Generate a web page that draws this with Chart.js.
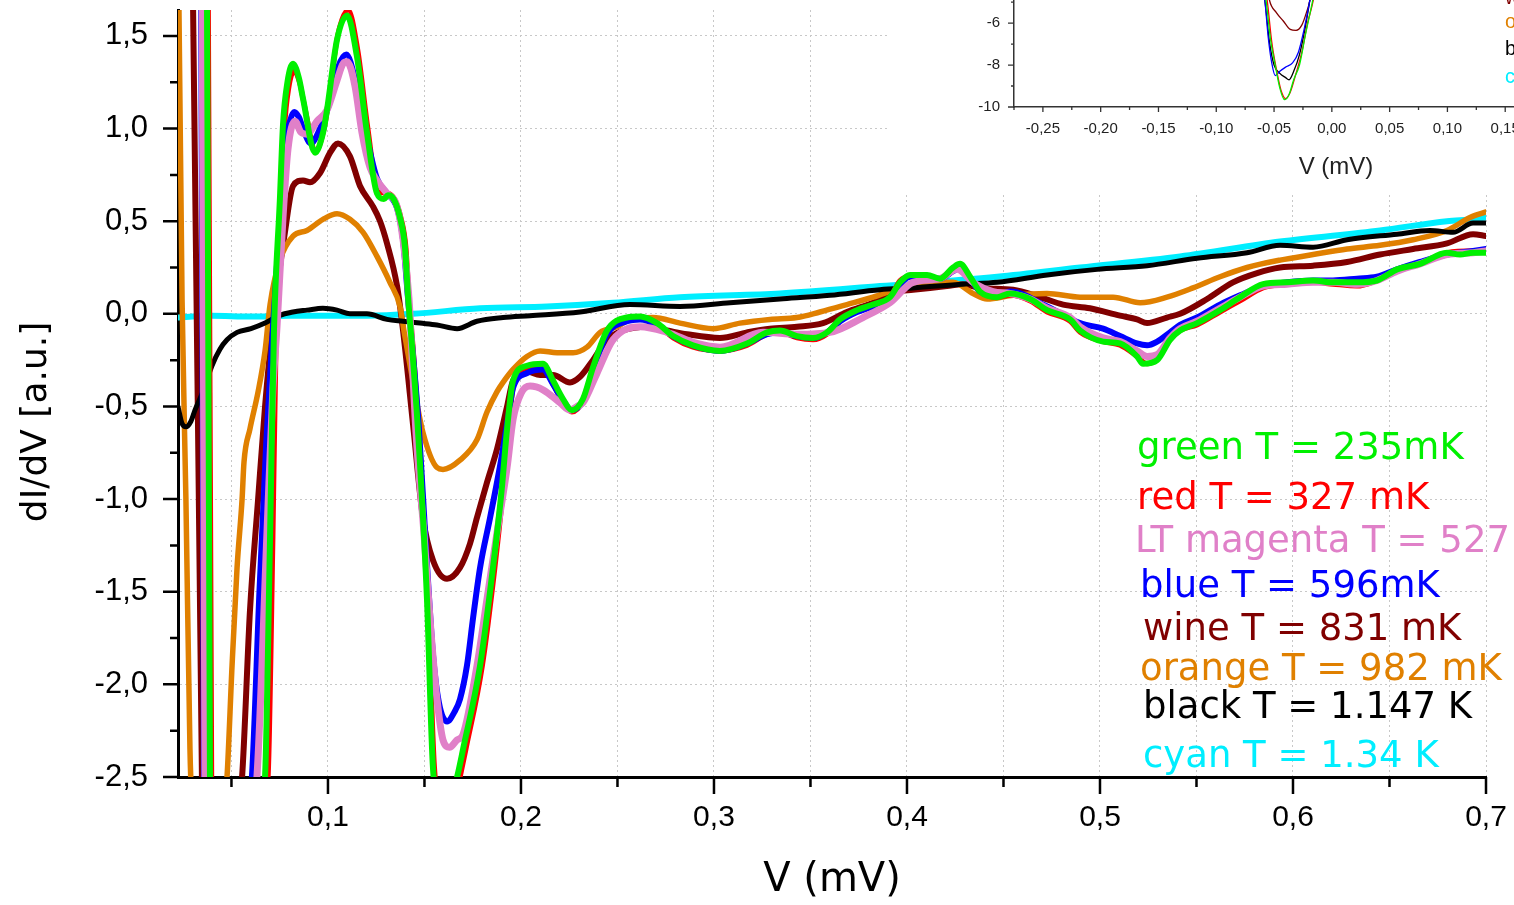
<!DOCTYPE html>
<html>
<head>
<meta charset="utf-8">
<script src="https://cdn.jsdelivr.net/npm/chart.js@4.4.1/dist/chart.umd.min.js"></script>
<style>
  html, body { margin: 0; padding: 0; background: #fff; overflow: hidden; }
  #wrap { position: relative; width: 1514px; height: 905px; overflow: hidden; }
  #main { position: absolute; left: 0; top: 0; }
  #inset { position: absolute; left: 890px; top: 0; }
</style>
</head>
<body>
<div id="wrap">
  <canvas id="main" width="1514" height="905"></canvas>
  <canvas id="inset" width="710" height="195"></canvas>
</div>
<script>
'use strict';

// main plot: [V (mV), dI/dV (a.u.)], values off the axes are clipped
const green = [[0.0225, 2.4], [0.0373, 1.75], [0.0389, -2.6], [0.052, -3.6], [0.0674, -2.5], [0.07, -1.2], [0.072, -0.1], [0.0751, 0.62], [0.0767, 1.02], [0.079, 1.25], [0.0819, 1.35], [0.085, 1.27], [0.0871, 1.16], [0.0933, 0.87], [0.0975, 0.98], [0.0995, 1.1], [0.1047, 1.48], [0.1099, 1.61], [0.115, 1.39], [0.1202, 0.98], [0.1254, 0.65], [0.129, 0.62], [0.1311, 0.64], [0.134, 0.62], [0.1373, 0.52], [0.1399, 0.36], [0.1415, 0.09], [0.1436, -0.18], [0.1467, -0.64], [0.1513, -1.54], [0.1544, -2.45], [0.16, -2.75], [0.1669, -2.5], [0.17, -2.35], [0.1788, -1.9], [0.1855, -1.37], [0.19, -0.95], [0.1928, -0.62], [0.1959, -0.36], [0.2031, -0.28], [0.2114, -0.27], [0.2166, -0.36], [0.2218, -0.46], [0.2264, -0.52], [0.2321, -0.46], [0.2373, -0.29], [0.2446, -0.09], [0.2549, -0.02], [0.2617, -0.015], [0.2705, -0.05], [0.2788, -0.12], [0.2891, -0.17], [0.3031, -0.2], [0.3171, -0.16], [0.3275, -0.1], [0.3342, -0.09], [0.343, -0.12], [0.3513, -0.13], [0.3586, -0.1], [0.3653, -0.03], [0.3741, 0.02], [0.3824, 0.05], [0.3912, 0.09], [0.3964, 0.17], [0.4016, 0.21], [0.4104, 0.21], [0.4171, 0.19], [0.4239, 0.25], [0.4275, 0.27], [0.4327, 0.2], [0.4378, 0.12], [0.4467, 0.09], [0.4534, 0.11], [0.4638, 0.08], [0.4726, 0.02], [0.4845, -0.03], [0.4897, -0.09], [0.5016, -0.15], [0.5104, -0.16], [0.5192, -0.23], [0.5223, -0.27], [0.5296, -0.25], [0.5363, -0.14], [0.5415, -0.09], [0.5503, -0.05], [0.5622, 0.02], [0.5726, 0.09], [0.5845, 0.16], [0.5969, 0.17], [0.6104, 0.18], [0.6207, 0.17], [0.6332, 0.17], [0.6435, 0.18], [0.6539, 0.24], [0.6658, 0.27], [0.6798, 0.33], [0.6865, 0.32], [0.6933, 0.33], [0.7, 0.33]];

const red = [[0.0225, 2.4], [0.038, 1.75], [0.0398, -2.6], [0.053, -3.6], [0.069, -2.5], [0.0715, -1.2], [0.0732, -0.1], [0.076, 0.62], [0.0775, 1.0], [0.0797, 1.22], [0.0825, 1.31], [0.0855, 1.24], [0.0877, 1.13], [0.0938, 0.88], [0.098, 1.0], [0.1, 1.12], [0.105, 1.5], [0.1105, 1.64], [0.1155, 1.42], [0.1207, 1.0], [0.126, 0.66], [0.1311, 0.65], [0.1345, 0.62], [0.1378, 0.52], [0.1404, 0.36], [0.142, 0.09], [0.1441, -0.18], [0.1472, -0.64], [0.1518, -1.54], [0.1552, -2.45], [0.162, -2.8], [0.1685, -2.5], [0.1715, -2.35], [0.18, -1.9], [0.1865, -1.37], [0.1908, -0.95], [0.1935, -0.62], [0.1965, -0.37], [0.2031, -0.29], [0.2114, -0.28], [0.2166, -0.38], [0.2218, -0.48], [0.2264, -0.53], [0.2321, -0.47], [0.2373, -0.3], [0.2446, -0.1], [0.2549, -0.03], [0.2617, -0.02], [0.2705, -0.06], [0.2788, -0.13], [0.2891, -0.18], [0.3031, -0.2], [0.3171, -0.17], [0.3275, -0.11], [0.3342, -0.1], [0.343, -0.13], [0.3513, -0.14], [0.3586, -0.11], [0.3653, -0.04], [0.3741, 0.01], [0.3824, 0.04], [0.3912, 0.09], [0.3964, 0.18], [0.4016, 0.2], [0.4104, 0.2], [0.4171, 0.19], [0.4239, 0.23], [0.4275, 0.25], [0.4327, 0.19], [0.4378, 0.12], [0.4467, 0.09], [0.4534, 0.1], [0.4638, 0.07], [0.4726, 0.01], [0.4845, -0.04], [0.4897, -0.1], [0.5016, -0.15], [0.5104, -0.17], [0.5192, -0.23], [0.5244, -0.27], [0.5296, -0.24], [0.5363, -0.14], [0.5415, -0.09], [0.5503, -0.06], [0.5622, 0.01], [0.5726, 0.07], [0.5845, 0.14], [0.5969, 0.16], [0.6104, 0.17], [0.6207, 0.16], [0.6332, 0.15], [0.6435, 0.18], [0.6539, 0.23], [0.6658, 0.27], [0.6798, 0.33], [0.6933, 0.34], [0.7, 0.34]];

const magenta = [[0.0225, 2.4], [0.0348, 1.75], [0.0363, -2.6], [0.048, -3.6], [0.0632, -2.5], [0.0684, -1.18], [0.0715, -0.4], [0.0736, -0.07], [0.0767, 0.52], [0.0793, 0.89], [0.0829, 1.04], [0.086, 0.98], [0.0891, 0.97], [0.0943, 1.04], [0.0995, 1.1], [0.1047, 1.26], [0.1078, 1.35], [0.1099, 1.36], [0.114, 1.23], [0.1176, 0.98], [0.1218, 0.79], [0.1254, 0.72], [0.1306, 0.65], [0.1358, 0.58], [0.1389, 0.4], [0.142, 0.08], [0.1456, -0.64], [0.1497, -1.18], [0.1534, -1.72], [0.1565, -2.08], [0.1596, -2.3], [0.163, -2.34], [0.1669, -2.3], [0.17, -2.27], [0.1772, -1.9], [0.1824, -1.54], [0.1876, -1.18], [0.1928, -0.83], [0.1959, -0.57], [0.2, -0.43], [0.2047, -0.39], [0.2114, -0.41], [0.2202, -0.48], [0.2254, -0.52], [0.229, -0.5], [0.2321, -0.48], [0.2394, -0.32], [0.2477, -0.14], [0.2617, -0.07], [0.2757, -0.1], [0.2912, -0.16], [0.3031, -0.18], [0.3254, -0.1], [0.343, -0.11], [0.3601, -0.1], [0.3772, -0.02], [0.3912, 0.06], [0.4031, 0.17], [0.4171, 0.19], [0.4259, 0.24], [0.4342, 0.17], [0.4446, 0.12], [0.4534, 0.11], [0.4638, 0.08], [0.4726, 0.03], [0.4845, -0.02], [0.4897, -0.07], [0.5016, -0.13], [0.5104, -0.15], [0.5192, -0.2], [0.5244, -0.23], [0.5296, -0.22], [0.5363, -0.13], [0.5415, -0.08], [0.5503, -0.04], [0.5622, 0.03], [0.5726, 0.09], [0.5845, 0.15], [0.5969, 0.16], [0.6104, 0.17], [0.6207, 0.17], [0.6332, 0.16], [0.6435, 0.18], [0.6539, 0.23], [0.6658, 0.27], [0.6798, 0.32], [0.6933, 0.33], [0.7, 0.34]];

const blue = [[0.0225, 2.4], [0.0343, 1.75], [0.0358, -2.6], [0.048, -3.6], [0.0606, -2.5], [0.0645, -1.5], [0.068, -0.7], [0.0715, -0.07], [0.0751, 0.5], [0.0777, 0.89], [0.0803, 1.04], [0.0825, 1.09], [0.085, 1.06], [0.0871, 1.0], [0.091, 0.92], [0.0959, 1.0], [0.1011, 1.15], [0.1052, 1.33], [0.1095, 1.4], [0.115, 1.22], [0.1202, 0.95], [0.1254, 0.73], [0.1306, 0.65], [0.1358, 0.57], [0.1389, 0.4], [0.1415, 0.08], [0.147, -0.6], [0.151, -1.3], [0.1545, -1.85], [0.1575, -2.1], [0.1617, -2.2], [0.1655, -2.15], [0.1684, -2.08], [0.172, -1.9], [0.1752, -1.64], [0.1788, -1.37], [0.184, -1.1], [0.189, -0.83], [0.1935, -0.55], [0.1959, -0.4], [0.2031, -0.32], [0.2114, -0.3], [0.2166, -0.38], [0.2218, -0.47], [0.2264, -0.52], [0.2321, -0.47], [0.2373, -0.31], [0.2446, -0.11], [0.2549, -0.04], [0.2617, -0.03], [0.2705, -0.06], [0.2788, -0.12], [0.2891, -0.17], [0.3031, -0.2], [0.3171, -0.16], [0.3275, -0.11], [0.3342, -0.1], [0.343, -0.12], [0.3513, -0.13], [0.3586, -0.1], [0.3653, -0.04], [0.3741, 0.01], [0.3824, 0.04], [0.3912, 0.08], [0.3964, 0.16], [0.4016, 0.2], [0.4104, 0.2], [0.4171, 0.19], [0.4239, 0.23], [0.4275, 0.25], [0.4327, 0.19], [0.4378, 0.12], [0.4467, 0.1], [0.4534, 0.12], [0.4726, 0.04], [0.4897, -0.05], [0.5016, -0.08], [0.5104, -0.12], [0.5192, -0.16], [0.5244, -0.17], [0.5296, -0.15], [0.5363, -0.1], [0.5415, -0.06], [0.5503, -0.02], [0.5622, 0.05], [0.5726, 0.1], [0.5845, 0.15], [0.5969, 0.17], [0.6104, 0.18], [0.6207, 0.18], [0.6332, 0.19], [0.6435, 0.2], [0.6539, 0.24], [0.6658, 0.28], [0.6798, 0.32], [0.6933, 0.34], [0.7, 0.35]];

const wine = [[0.0225, 2.4], [0.03, 1.75], [0.0348, -2.6], [0.042, -3.6], [0.0555, -2.5], [0.0596, -1.6], [0.0638, -1.0], [0.0674, -0.5], [0.0715, -0.05], [0.0777, 0.44], [0.0819, 0.69], [0.0871, 0.72], [0.0907, 0.71], [0.0959, 0.76], [0.1011, 0.87], [0.1052, 0.92], [0.1114, 0.85], [0.1166, 0.69], [0.1233, 0.58], [0.127, 0.5], [0.1306, 0.38], [0.1358, 0.15], [0.1389, -0.09], [0.1441, -0.6], [0.1492, -1.1], [0.1544, -1.33], [0.1617, -1.43], [0.1684, -1.37], [0.1736, -1.24], [0.1772, -1.1], [0.1824, -0.91], [0.1876, -0.73], [0.1928, -0.5], [0.1959, -0.36], [0.2031, -0.31], [0.2099, -0.33], [0.2166, -0.33], [0.2254, -0.37], [0.2306, -0.34], [0.2373, -0.25], [0.2446, -0.14], [0.2529, -0.09], [0.2653, -0.07], [0.2757, -0.09], [0.286, -0.11], [0.3031, -0.13], [0.3171, -0.1], [0.329, -0.08], [0.343, -0.07], [0.3565, -0.05], [0.3689, 0.01], [0.3824, 0.06], [0.3948, 0.12], [0.4031, 0.13], [0.4207, 0.15], [0.429, 0.16], [0.4378, 0.14], [0.455, 0.13], [0.469, 0.09], [0.4809, 0.05], [0.4948, 0.03], [0.5104, -0.01], [0.5192, -0.03], [0.5244, -0.05], [0.5347, -0.02], [0.5415, 0.0], [0.5555, 0.08], [0.5689, 0.17], [0.5814, 0.22], [0.5933, 0.25], [0.6104, 0.26], [0.628, 0.28], [0.6451, 0.32], [0.6622, 0.35], [0.6798, 0.38], [0.6933, 0.43], [0.7, 0.42]];

const orange = [[0.0223, 1.9], [0.0228, 1.64], [0.0244, 0.08], [0.0264, -1.0], [0.0285, -2.35], [0.0293, -2.6], [0.038, -3.6], [0.0477, -2.5], [0.0503, -1.9], [0.0529, -1.37], [0.0555, -1.0], [0.0565, -0.8], [0.0596, -0.62], [0.0638, -0.42], [0.0674, -0.2], [0.07, 0.05], [0.0751, 0.29], [0.0819, 0.42], [0.0891, 0.45], [0.0974, 0.51], [0.1047, 0.54], [0.1114, 0.51], [0.1182, 0.44], [0.1254, 0.31], [0.1321, 0.17], [0.1373, 0.04], [0.1395, -0.1], [0.1441, -0.37], [0.1492, -0.64], [0.1565, -0.83], [0.1596, -0.84], [0.1684, -0.79], [0.1772, -0.68], [0.1824, -0.53], [0.1876, -0.42], [0.1907, -0.37], [0.1959, -0.3], [0.2031, -0.23], [0.2099, -0.2], [0.2187, -0.21], [0.227, -0.21], [0.2342, -0.18], [0.241, -0.1], [0.2498, -0.07], [0.2565, -0.03], [0.2684, -0.02], [0.2824, -0.05], [0.2995, -0.08], [0.3135, -0.05], [0.329, -0.03], [0.343, -0.02], [0.3549, 0.01], [0.3689, 0.05], [0.3824, 0.09], [0.3964, 0.14], [0.4104, 0.17], [0.4239, 0.17], [0.4342, 0.11], [0.4415, 0.08], [0.455, 0.1], [0.4726, 0.11], [0.4897, 0.09], [0.5068, 0.09], [0.5208, 0.06], [0.5347, 0.09], [0.5482, 0.14], [0.5622, 0.2], [0.5762, 0.25], [0.5933, 0.29], [0.6104, 0.32], [0.628, 0.35], [0.6451, 0.37], [0.6622, 0.4], [0.6798, 0.45], [0.6917, 0.52], [0.7, 0.55]];

const black = [[0.0223, -0.5], [0.0243, -0.59], [0.0264, -0.61], [0.029, -0.58], [0.0311, -0.52], [0.0352, -0.42], [0.0399, -0.28], [0.0441, -0.19], [0.0477, -0.14], [0.0529, -0.1], [0.0601, -0.08], [0.0674, -0.05], [0.0746, -0.01], [0.0819, 0.01], [0.0891, 0.02], [0.0974, 0.03], [0.1047, 0.02], [0.1114, 0.0], [0.1202, 0.0], [0.1306, -0.03], [0.1389, -0.04], [0.1477, -0.05], [0.1565, -0.06], [0.1669, -0.08], [0.1772, -0.04], [0.1907, -0.02], [0.2047, -0.01], [0.2306, 0.01], [0.2565, 0.05], [0.2824, 0.04], [0.3083, 0.06], [0.3342, 0.08], [0.3601, 0.1], [0.386, 0.13], [0.4031, 0.14], [0.429, 0.16], [0.4467, 0.17], [0.4726, 0.21], [0.4985, 0.24], [0.5244, 0.26], [0.5503, 0.3], [0.5762, 0.33], [0.5933, 0.37], [0.6104, 0.36], [0.628, 0.4], [0.6539, 0.43], [0.671, 0.45], [0.6829, 0.44], [0.6933, 0.49], [0.7, 0.49]];

const cyan = [[0.0223, -0.02], [0.04, -0.01], [0.06, -0.015], [0.08, -0.01], [0.1, -0.01], [0.12, -0.01], [0.1441, 0.0], [0.1788, 0.03], [0.2135, 0.04], [0.2477, 0.06], [0.2824, 0.09], [0.3342, 0.11], [0.386, 0.15], [0.4467, 0.2], [0.4897, 0.25], [0.5415, 0.31], [0.5933, 0.39], [0.6451, 0.45], [0.6798, 0.5], [0.6933, 0.51], [0.7, 0.52]];

// inset: the bottom of the zero-bias dip (cut off at the top of the picture)
const insetGreen = [[-0.062, -3.5], [-0.057, -4.9], [-0.053, -6.8], [-0.049, -8.0], [-0.045, -9.1], [-0.041, -9.65], [-0.037, -9.4], [-0.033, -8.7], [-0.028, -8.0], [-0.023, -6.6], [-0.0165, -4.9], [-0.012, -3.5]];
const insetRed = [[-0.061, -3.5], [-0.056, -4.9], [-0.052, -6.9], [-0.048, -8.2], [-0.044, -9.2], [-0.04, -9.6], [-0.036, -9.3], [-0.031, -8.4], [-0.026, -7.4], [-0.021, -6.0], [-0.016, -4.9], [-0.012, -3.5]];
const insetBlue = [[-0.062, -3.5], [-0.058, -4.9], [-0.055, -6.7], [-0.052, -7.9], [-0.049, -8.5], [-0.045, -8.3], [-0.04, -8.1], [-0.034, -7.9], [-0.029, -7.4], [-0.024, -6.3], [-0.019, -4.9], [-0.015, -3.5]];
const insetBlack = [[-0.062, -3.5], [-0.058, -4.9], [-0.054, -6.9], [-0.05, -8.0], [-0.045, -8.4], [-0.04, -8.6], [-0.037, -8.7], [-0.033, -8.3], [-0.028, -7.5], [-0.023, -6.2], [-0.019, -4.9], [-0.015, -3.5]];
const insetWine = [[-0.058, -3.5], [-0.054, -4.9], [-0.048, -5.5], [-0.042, -5.9], [-0.036, -6.3], [-0.031, -6.35], [-0.026, -6.1], [-0.022, -5.5], [-0.019, -4.9], [-0.016, -3.5]];

const legendLabels = ['green T = 235mK', 'red T = 327 mK', 'LT magenta T = 527 mK', 'blue T = 596mK', 'wine T = 831 mK', 'orange T = 982 mK', 'black T = 1.147 K', 'cyan T = 1.34 K'];
const insetLegendLabels = ['wine', 'orange', 'black', 'cyan'];

const colors = {
  green: '#00f000', red: '#ff0000', magenta: '#e080c8', blue: '#0000ff',
  wine: '#800000', orange: '#e08000', black: '#000000', cyan: '#00eeff',
};

// first entry ends up on top
const mainSeries = [
  ['green', green, 6], ['LT magenta', magenta, 7], ['blue', blue, 6], ['red', red, 5],
  ['black', black, 5], ['orange', orange, 5.5], ['wine', wine, 6], ['cyan', cyan, 6],
];
const colorOf = { 'LT magenta': colors.magenta };

const comma = (v, d) => (Math.round(v * 1000) / 1000).toFixed(d).replace('.', ',');

function fixBox(w, h) {
  return s => {
    if (w !== null) s.width = w;
    if (h !== null) s.height = h;
    s.paddingLeft = s.paddingRight = s.paddingTop = s.paddingBottom = 0;
  };
}

const mainDecor = {
  id: 'mainDecor',
  beforeDraw(chart) {
    const { ctx, width, height } = chart;
    ctx.save();
    ctx.fillStyle = '#fff';
    ctx.fillRect(0, 0, width, height);
    ctx.restore();
  },
  afterDraw(chart) {
    const { ctx, scales: { x, y }, chartArea: a } = chart;
    ctx.save();
    ctx.strokeStyle = '#000';
    ctx.lineWidth = 2.5;
    ctx.beginPath();
    x.ticks.forEach(t => {
      const px = x.getPixelForValue(t.value);
      const major = Math.round(t.value * 100) % 10 === 0;
      ctx.moveTo(px, a.bottom);
      ctx.lineTo(px, a.bottom + (major ? 17 : 10));
    });
    y.ticks.forEach(t => {
      [t.value, t.value + 0.25].forEach((v, i) => {
        if (v > y.max) return;
        const py = y.getPixelForValue(v);
        ctx.moveTo(a.left, py);
        ctx.lineTo(a.left - (i === 0 ? 15 : 8), py);
      });
    });
    ctx.stroke();

    // y axis title
    ctx.save();
    ctx.translate(37, 422);
    ctx.rotate(-Math.PI / 2);
    ctx.font = '36px "DejaVu Sans"';
    ctx.fillStyle = '#000';
    ctx.textAlign = 'center';
    ctx.textBaseline = 'middle';
    ctx.fillText('dI/dV [a.u.]', 0, 0);
    ctx.restore();

    // temperature labels
    const lx = [1137, 1137, 1135, 1140, 1143, 1140, 1143, 1143];
    const ly = [459, 509, 552, 597, 640, 680, 718, 767];
    const lc = [colors.green, colors.red, colors.magenta, colors.blue, colors.wine, colors.orange, colors.black, colors.cyan];
    ctx.font = '37px "DejaVu Sans"';
    ctx.textAlign = 'left';
    ctx.textBaseline = 'alphabetic';
    legendLabels.forEach((txt, i) => {
      ctx.fillStyle = lc[i];
      ctx.fillText(txt, lx[i], ly[i]);
    });
    ctx.restore();
  }
};

new Chart(document.getElementById('main'), {
  type: 'line',
  data: {
    datasets: mainSeries.map(([name, pts, w]) => ({
      label: name,
      data: pts.map(([x, y]) => ({ x, y })),
      borderColor: colorOf[name] || colors[name],
      borderWidth: w,
      pointRadius: 0,
      fill: false,
      cubicInterpolationMode: 'monotone',
      borderJoinStyle: 'round',
      borderCapStyle: 'round',
    })),
  },
  options: {
    responsive: false,
    animation: false,
    events: [],
    layout: { padding: { left: 0, right: 28, top: 10, bottom: 0 } },
    plugins: { legend: { display: false }, tooltip: { enabled: false } },
    scales: {
      x: {
        type: 'linear', min: 0.0223, max: 0.7,
        afterFit: fixBox(null, 128),
        grid: { color: '#c8c8c8', lineWidth: 1, drawTicks: false },
        border: { color: '#000', width: 3, dash: [2, 3] },
        ticks: {
          stepSize: 0.05, includeBounds: false, autoSkip: false, maxRotation: 0, padding: 23,
          font: { family: 'Liberation Sans', size: 30 }, color: '#000',
          callback: v => (Math.round(v * 100) % 10 === 0 ? comma(v, 1) : ''),
        },
        title: { display: true, text: 'V (mV)', color: '#000', font: { family: 'DejaVu Sans', size: 40 }, padding: { top: 0, bottom: 0 } },
      },
      y: {
        type: 'linear', min: -2.5, max: 1.64,
        afterFit: fixBox(178, null),
        grid: { color: '#c8c8c8', lineWidth: 1, drawTicks: false },
        border: { color: '#000', width: 3, dash: [2, 3] },
        ticks: {
          stepSize: 0.5, includeBounds: false, padding: 30,
          font: { family: 'Liberation Sans', size: 31 }, color: '#000',
          callback: v => comma(v, 1),
        },
      },
    },
  },
  plugins: [mainDecor],
});

const insetDecor = {
  id: 'insetDecor',
  beforeDraw(chart) {
    const { ctx, width, height } = chart;
    ctx.save();
    ctx.fillStyle = '#fff';
    ctx.fillRect(0, 0, width, height);
    ctx.restore();
  },
  afterDraw(chart) {
    const { ctx, scales: { x, y }, chartArea: a } = chart;
    ctx.save();
    ctx.strokeStyle = '#333';
    ctx.lineWidth = 1.3;
    ctx.beginPath();
    x.ticks.forEach(t => {
      const px = x.getPixelForValue(t.value);
      const major = Math.abs(Math.round(t.value * 20) - t.value * 20) < 1e-6;
      ctx.moveTo(px, a.bottom);
      ctx.lineTo(px, a.bottom + (major ? 5 : 3));
    });
    y.ticks.forEach(t => {
      const py = y.getPixelForValue(t.value);
      ctx.moveTo(a.left, py);
      ctx.lineTo(a.left - (t.value % 2 === 0 ? 6 : 3), py);
    });
    ctx.stroke();

    ctx.fillStyle = '#222';
    ctx.font = '24px "Liberation Sans"';
    ctx.textAlign = 'center';
    ctx.textBaseline = 'middle';
    ctx.fillText('V (mV)', 446, 167);

    const ic = [colors.wine, colors.orange, colors.black, colors.cyan];
    const iy = [4, 28, 55, 83];
    ctx.font = '20px "Liberation Sans"';
    ctx.textAlign = 'left';
    ctx.textBaseline = 'alphabetic';
    insetLegendLabels.forEach((txt, i) => {
      ctx.fillStyle = ic[i];
      ctx.fillText(txt, 615, iy[i]);
    });
    ctx.restore();
  }
};

const insetSeries = [
  ['green', insetGreen], ['red', insetRed], ['blue', insetBlue], ['black', insetBlack], ['wine', insetWine],
];

new Chart(document.getElementById('inset'), {
  type: 'line',
  data: {
    datasets: insetSeries.map(([name, pts]) => ({
      label: name,
      data: pts.map(([x, y]) => ({ x, y })),
      borderColor: colors[name],
      borderWidth: 1.3,
      pointRadius: 0,
      fill: false,
      cubicInterpolationMode: 'monotone',
    })),
  },
  options: {
    responsive: false,
    animation: false,
    events: [],
    layout: { padding: { left: 0, right: 37, top: 0, bottom: 0 } },
    plugins: { legend: { display: false }, tooltip: { enabled: false } },
    scales: {
      x: {
        type: 'linear', min: -0.275, max: 0.2,
        afterFit: fixBox(null, 88),
        grid: { display: false, drawTicks: false },
        border: { color: '#333', width: 1.5 },
        ticks: {
          stepSize: 0.025, includeBounds: false, autoSkip: false, maxRotation: 0, padding: 13,
          font: { family: 'Liberation Sans', size: 15 }, color: '#222',
          callback: v => (Math.abs(Math.round(v * 20) - v * 20) < 1e-6 ? comma(v, 2) : ''),
        },
      },
      y: {
        type: 'linear', min: -10, max: -4.9,
        afterFit: fixBox(124, null),
        grid: { display: false, drawTicks: false },
        border: { color: '#333', width: 1.5 },
        ticks: {
          stepSize: 1, includeBounds: false, padding: 14,
          font: { family: 'Liberation Sans', size: 15 }, color: '#222',
          callback: v => (v % 2 === 0 ? String(v) : ''),
        },
      },
    },
  },
  plugins: [insetDecor],
});
</script>
</body>
</html>
